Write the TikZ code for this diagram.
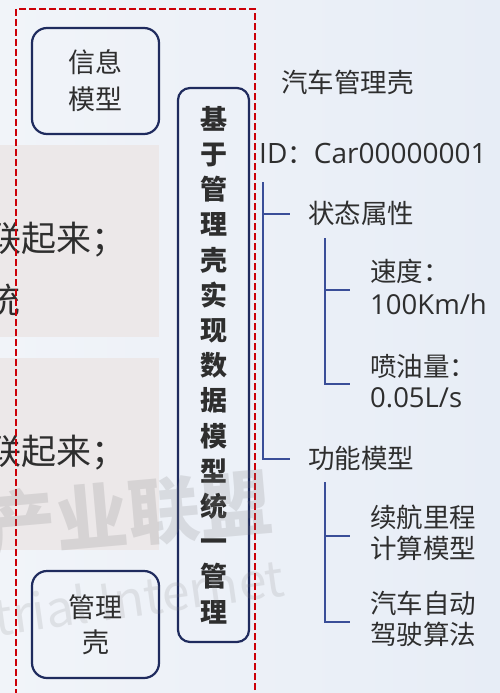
\documentclass[tikz,border=0pt]{standalone}
\usepackage{fontspec}
\setmainfont{Noto Sans CJK SC}
\newfontfamily\lat{Open Sans}
\usetikzlibrary{calc}
\definecolor{bgL}{HTML}{F1F4F9}
\definecolor{bgR}{HTML}{E7EDF6}
\definecolor{navy}{HTML}{1F2B5E}
\definecolor{treeblue}{HTML}{3A4E98}
\definecolor{dred}{HTML}{CC0008}
\definecolor{grayfill}{HTML}{ECE8E9}
\definecolor{txt}{HTML}{2E2E2E}
\begin{document}
\begin{tikzpicture}[x=1pt,y=-1pt,
  rbox/.style={draw=navy,line width=2.2pt,rounded corners=15pt,fill=none,text=txt,align=center},
  rtext/.style={anchor=west,text=txt,font=\fontsize{26.5}{32}\selectfont,inner sep=0pt,align=left},
  treeline/.style={draw=treeblue,line width=1.5pt},
  lefttext/.style={anchor=west,text=txt,font=\fontsize{35}{40}\selectfont,inner sep=0pt}
]
\useasboundingbox (0,0) rectangle (500,693);
\begin{scope}
\clip (0,0) rectangle (500,693);
\shade[left color=bgL,right color=bgR] (0,0) rectangle (500,693);
% gray boxes with cropped text
\fill[grayfill] (-5,145) rectangle (159,337);
\fill[grayfill] (-5,358) rectangle (159,550);
\node[lefttext] (l1) at (-14,240) {联起来；};
\node[lefttext] (l2) at (-15,300) {统};
\node[lefttext] (l3) at (-14,453) {联起来；};
% boxes
\node[rbox,minimum width=127pt,minimum height=106pt,font=\fontsize{27}{37}\selectfont] (info) at (95.5,81) {信息\\模型};
\node[rbox,minimum width=127pt,minimum height=107pt,font=\fontsize{27}{35}\selectfont] (shell) at (95.5,624.5) {管理\\壳};
\node[rbox,minimum width=71pt,minimum height=554pt,rounded corners=12pt,font=\fontsize{27}{35.2}\selectfont\bfseries] (vbox) at (213.5,365)
  {基\\于\\管\\理\\壳\\实\\现\\数\\据\\模\\型\\统\\一\\管\\理};
% red dashed frame
\draw[dred,line width=2pt,dash pattern=on 7pt off 3pt] (255,720) -- (255,9) -- (16,9) -- (16,720);
% watermark
\node[text=gray,opacity=0.2,font=\fontsize{72}{72}\selectfont\bfseries,rotate=5,inner sep=0pt] (wm1) at (128,514) {产业联盟};
\node[text=gray,opacity=0.16,font=\fontsize{50}{50}\selectfont,rotate=8,inner sep=0pt,anchor=east] (wm2) at (284,576) {trial Internet};
% right side
\node[rtext] (title) at (281,82) {汽车管理壳};
\node[rtext] (id) at (259,153) {{\lat\fontsize{28}{32}\selectfont ID}：{\lat\fontsize{28}{32}\selectfont Car00000001}};
\node[rtext] (state) at (308,213) {状态属性};
\node[rtext,font=\fontsize{26.5}{33}\selectfont] (speed) at (370,286.5) {速度：\\{\lat\fontsize{27.5}{33}\selectfont 100Km/h}};
\node[rtext,font=\fontsize{26.5}{31}\selectfont] (fuel) at (370,381.5) {喷油量：\\{\lat\fontsize{27.5}{31}\selectfont 0.05L/s}};
\node[rtext] (func) at (308,458) {功能模型};
\node[rtext,font=\fontsize{26.5}{31}\selectfont] (range) at (370,532.5) {续航里程\\计算模型};
\node[rtext,font=\fontsize{26.5}{31}\selectfont] (auto) at (370,618.5) {汽车自动\\驾驶算法};
% tree
\coordinate (t0) at (263,182);
\coordinate (t1) at (263,214);
\coordinate (t2) at (263,459);
\coordinate (s0) at (325,238);
\coordinate (s1) at (325,290);
\coordinate (s2) at (325,384);
\coordinate (f0) at (325,482);
\coordinate (f1) at (325,536);
\coordinate (f2) at (325,622);
\draw[treeline] (t0) -- (t2) -- (t2 -| 290,0);
\draw[treeline] (t1) -- (t1 -| 290,0);
\draw[treeline] (s0) -- (s2) -- (s2 -| 350,0);
\draw[treeline] (s1) -- (s1 -| 350,0);
\draw[treeline] (f0) -- (f2) -- (f2 -| 350,0);
\draw[treeline] (f1) -- (f1 -| 350,0);
\end{scope}
\end{tikzpicture}
\end{document}
